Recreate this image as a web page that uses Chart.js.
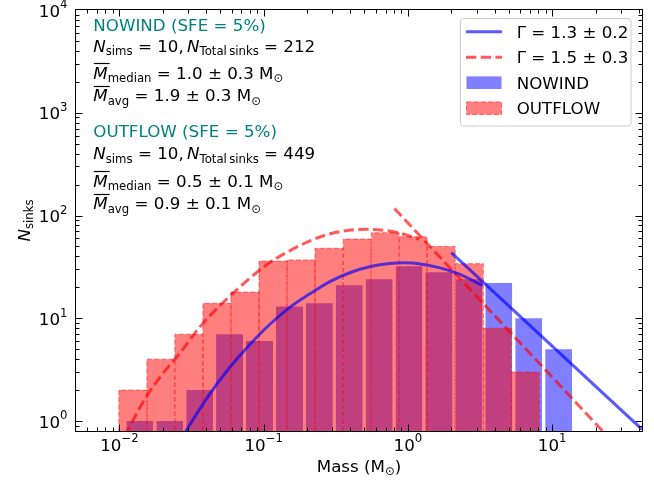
<!DOCTYPE html>
<html>
<head>
<meta charset="utf-8">
<title>Sink mass function</title>
<script src="https://cdn.jsdelivr.net/npm/chart.js@4.4.0/dist/chart.umd.min.js"></script>
<style>
    body { margin: 0; background: #fff; }
    canvas { display: block; }
</style>
</head>
<body>
<canvas id="imf" width="654" height="481"></canvas>
<script>
// Histogram bin edges (M_sun) and counts
const NOWIND_EDGES = [0.0109, 0.0176, 0.0284, 0.0457, 0.0737, 0.119, 0.192, 0.309, 0.498, 0.803, 1.29, 2.09, 3.36, 5.42, 8.74, 14.1];
const NOWIND_COUNTS = [1, 1, 2, 7, 6, 13, 14, 21, 24, 32, 28, 24, 22, 10, 5];
const OUTFLOW_EDGES = [0.0099, 0.0155, 0.0242, 0.0379, 0.0593, 0.0928, 0.145, 0.227, 0.356, 0.557, 0.871, 1.36, 2.13, 3.34, 5.22, 8.18];
const OUTFLOW_COUNTS = [2, 4, 7, 14, 18, 36, 37, 48, 59, 68, 62, 50, 34, 8, 3];

// Fitted curves
const NOWIND_FIT_MASS = [0.0275, 0.0421, 0.0579, 0.0797, 0.110, 0.151, 0.208, 0.29, 0.40, 0.55, 0.75, 0.95, 1.25, 1.65, 2.16, 2.9, 3.29];
const NOWIND_FIT_N = [0.72, 1.82, 3.3, 5.5, 8.7, 12.7, 17.2, 22.9, 27.9, 31.9, 34.2, 34.7, 33.6, 31.1, 27.6, 22.9, 20.8];
const NOWIND_PL_MASS = [2.0, 42];
const NOWIND_PL_N = [43.6, 0.83];
const OUTFLOW_FIT_MASS = [0.0109, 0.0153, 0.020, 0.026, 0.036, 0.055, 0.080, 0.11, 0.15, 0.20, 0.28, 0.38, 0.514, 0.70, 0.90, 1.2];
const OUTFLOW_FIT_N = [0.72, 1.71, 2.9, 4.5, 8.2, 15.2, 24.5, 34.8, 45, 55, 65.6, 71.5, 73.6, 71.4, 66.7, 58.7];
const OUTFLOW_PL_MASS = [0.807, 24];
const OUTFLOW_PL_N = [117, 0.72];

// Axes
const X_MIN = 0.005, X_MAX = 42;
const Y_MIN = 0.8, Y_MAX = 1e4;
const X_TICKS = [0.01, 0.1, 1, 10];
const X_TICK_EXP = ['\u22122', '\u22121', '0', '1'];
const Y_TICKS = [1, 10, 100, 1000, 10000];
const Y_TICK_EXP = ['0', '1', '2', '3', '4'];

// Colours
const BLUE_FILL = 'rgba(0, 0, 255, 0.5)';
const RED_FILL = 'rgba(255, 0, 0, 0.5)';
const BLUE_LINE = 'rgba(0, 0, 255, 0.65)';
const RED_LINE = 'rgba(255, 0, 0, 0.65)';
const TEAL = '#008080';
const FONT = '"DejaVu Sans", sans-serif';
const FS = 16.7;

// Annotation block, one entry per line
const NOTES = [
    {color: TEAL, parts: [{t: 'NOWIND (SFE = 5%)'}]},
    {parts: [{t: 'N', it: true}, {t: 'sims', sub: true}, {t: ' = 10,\u2009'}, {t: 'N', it: true}, {t: 'Total\u2009sinks', sub: true}, {t: ' = 212'}]},
    {parts: [{t: 'M', it: true, bar: true}, {t: 'median', sub: true}, {t: ' = 1.0 \u00b1 0.3 M'}, {t: '\u2299', sub: true}]},
    {parts: [{t: 'M', it: true, bar: true}, {t: 'avg', sub: true}, {t: ' = 1.9 \u00b1 0.3 M'}, {t: '\u2299', sub: true}]},
    {color: TEAL, parts: [{t: 'OUTFLOW (SFE = 5%)'}]},
    {parts: [{t: 'N', it: true}, {t: 'sims', sub: true}, {t: ' = 10,\u2009'}, {t: 'N', it: true}, {t: 'Total\u2009sinks', sub: true}, {t: ' = 449'}]},
    {parts: [{t: 'M', it: true, bar: true}, {t: 'median', sub: true}, {t: ' = 0.5 \u00b1 0.1 M'}, {t: '\u2299', sub: true}]},
    {parts: [{t: 'M', it: true, bar: true}, {t: 'avg', sub: true}, {t: ' = 0.9 \u00b1 0.1 M'}, {t: '\u2299', sub: true}]}
];
const NOTE_BASELINES = [31, 51.7, 78.5, 101, 136.7, 159.3, 186.5, 209];

const LEGEND = [
    {label: '\u0393 = 1.3 \u00b1 0.2', kind: 'line'},
    {label: '\u0393 = 1.5 \u00b1 0.3', kind: 'dash'},
    {label: 'NOWIND', kind: 'blue'},
    {label: 'OUTFLOW', kind: 'red'}
];

// Turn bins into closed bar outlines (one segment per bar, null between bars)
function histPoints(edges, counts, rwidth) {
    const pts = [];
    counts.forEach((n, i) => {
        const a = Math.log10(edges[i]);
        const b = Math.log10(edges[i + 1]);
        const pad = (1 - rwidth) / 2 * (b - a);
        const l = Math.pow(10, a + pad);
        const r = Math.pow(10, b - pad);
        pts.push({x: l, y: Y_MIN}, {x: l, y: n}, {x: r, y: n}, {x: r, y: Y_MIN}, {x: r, y: null});
    });
    return pts;
}

function curve(mass, n) {
    return mass.map((m, i) => ({x: m, y: n[i]}));
}

function partFont(p, size) {
    const s = (p.sub || p.sup) ? size * 0.7 : size;
    return (p.it ? 'italic ' : '') + s + 'px ' + FONT;
}

// Small mathtext-like renderer: italics, sub/superscripts, overline
function drawRich(ctx, parts, x, y, size, align, color) {
    ctx.save();
    ctx.textBaseline = 'alphabetic';
    ctx.textAlign = 'left';
    let total = 0;
    const widths = parts.map(p => {
        ctx.font = partFont(p, size);
        const w = ctx.measureText(p.t).width;
        total += w;
        return w;
    });
    if (align === 'center') x -= total / 2;
    if (align === 'right') x -= total;
    ctx.fillStyle = color || '#000';
    ctx.strokeStyle = color || '#000';
    parts.forEach((p, i) => {
        ctx.font = partFont(p, size);
        let dy = 0;
        if (p.sub) dy = size * 0.22;
        if (p.sup) dy = -size * 0.5;
        ctx.fillText(p.t, x, y + dy);
        if (p.bar) {
            const oy = Math.round(y - size * 0.9) + 0.5;
            ctx.lineWidth = 1.2;
            ctx.beginPath();
            ctx.moveTo(x + 0.5, oy);
            ctx.lineTo(x + widths[i] + 2, oy);
            ctx.stroke();
        }
        x += widths[i];
    });
    ctx.restore();
}

// Frame, inward ticks on all sides, tick labels, axis titles, notes and legend
const decorPlugin = {
    id: 'decor',
    afterDraw(chart) {
        const {ctx, chartArea: a, scales: {x, y}} = chart;
        ctx.save();
        ctx.strokeStyle = '#000';
        ctx.lineWidth = 1;

        const MAJOR = 6.5, MINOR = 3.5;
        ctx.beginPath();
        for (let e = -3; e <= 4; e++) {
            for (let k = 1; k <= 9; k++) {
                const v = k * Math.pow(10, e);
                const len = k === 1 ? MAJOR : MINOR;
                if (v > X_MIN * 1.001 && v < X_MAX * 0.999) {
                    const px = Math.round(x.getPixelForValue(v)) + 0.5;
                    ctx.moveTo(px, a.bottom); ctx.lineTo(px, a.bottom - len);
                    ctx.moveTo(px, a.top); ctx.lineTo(px, a.top + len);
                }
                if (v > Y_MIN * 1.001 && v < Y_MAX * 0.999) {
                    const py = Math.round(y.getPixelForValue(v)) + 0.5;
                    ctx.moveTo(a.left, py); ctx.lineTo(a.left + len, py);
                    ctx.moveTo(a.right, py); ctx.lineTo(a.right - len, py);
                }
            }
        }
        ctx.stroke();
        ctx.strokeRect(a.left - 0.5, a.top - 0.5, a.right - a.left + 1, a.bottom - a.top + 1);
        ctx.restore();

        X_TICKS.forEach((v, i) => {
            drawRich(ctx, [{t: '10'}, {t: X_TICK_EXP[i], sup: true}], x.getPixelForValue(v), a.bottom + 19.5, FS, 'center');
        });
        Y_TICKS.forEach((v, i) => {
            drawRich(ctx, [{t: '10'}, {t: Y_TICK_EXP[i], sup: true}], a.left - 8.5, y.getPixelForValue(v) + 6.7, FS, 'right');
        });

        drawRich(ctx, [{t: 'Mass (M'}, {t: '\u2299', sub: true}, {t: ')'}], (a.left + a.right) / 2, 471.5, FS, 'center');
        ctx.save();
        ctx.translate(29.5, (a.top + a.bottom) / 2);
        ctx.rotate(-Math.PI / 2);
        drawRich(ctx, [{t: 'N', it: true}, {t: 'sinks', sub: true}], 0, 0, FS, 'center');
        ctx.restore();

        NOTES.forEach((line, i) => {
            drawRich(ctx, line.parts, 93.3, NOTE_BASELINES[i], FS, 'left', line.color);
        });

        // Legend
        ctx.save();
        ctx.fillStyle = 'rgba(255, 255, 255, 0.8)';
        ctx.strokeStyle = '#cccccc';
        ctx.lineWidth = 1;
        ctx.beginPath();
        ctx.roundRect(460.5, 18.5, 170.5, 107.5, 3);
        ctx.fill();
        ctx.stroke();
        LEGEND.forEach((item, i) => {
            const cy = 31.7 + i * 25.5;
            if (item.kind === 'line' || item.kind === 'dash') {
                ctx.strokeStyle = item.kind === 'line' ? BLUE_LINE : RED_LINE;
                ctx.lineWidth = 3;
                ctx.setLineDash(item.kind === 'dash' ? [10.3, 4.4] : []);
                ctx.beginPath();
                ctx.moveTo(466, cy);
                ctx.lineTo(502, cy);
                ctx.stroke();
                ctx.setLineDash([]);
            } else {
                ctx.fillStyle = item.kind === 'blue' ? BLUE_FILL : RED_FILL;
                ctx.fillRect(466.5, cy - 6.3, 35, 12.6);
                if (item.kind === 'red') {
                    ctx.strokeStyle = RED_FILL;
                    ctx.lineWidth = 1;
                    ctx.setLineDash([5, 2.2]);
                    ctx.strokeRect(466.5, cy - 6.3, 35, 12.6);
                    ctx.setLineDash([]);
                }
            }
            drawRich(ctx, [{t: item.label}], 516.7, cy + 6, FS, 'left');
        });
        ctx.restore();
    }
};

const lineStyle = {pointRadius: 0, fill: false, clip: 0, borderWidth: 3, borderCapStyle: 'butt'};

new Chart(document.getElementById('imf'), {
    type: 'line',
    data: {
        datasets: [
            Object.assign({label: 'NOWIND fit', data: curve(NOWIND_FIT_MASS, NOWIND_FIT_N), borderColor: BLUE_LINE, cubicInterpolationMode: 'monotone', order: 1}, lineStyle),
            Object.assign({label: 'NOWIND power law', data: curve(NOWIND_PL_MASS, NOWIND_PL_N), borderColor: BLUE_LINE, order: 2}, lineStyle),
            Object.assign({label: 'OUTFLOW fit', data: curve(OUTFLOW_FIT_MASS, OUTFLOW_FIT_N), borderColor: RED_LINE, borderDash: [10.3, 4.4], cubicInterpolationMode: 'monotone', order: 3}, lineStyle),
            Object.assign({label: 'OUTFLOW power law', data: curve(OUTFLOW_PL_MASS, OUTFLOW_PL_N), borderColor: RED_LINE, borderDash: [10.3, 4.4], order: 4}, lineStyle),
            {
                label: 'OUTFLOW',
                data: histPoints(OUTFLOW_EDGES, OUTFLOW_COUNTS, 1),
                backgroundColor: RED_FILL,
                borderColor: RED_FILL,
                borderWidth: 1,
                borderDash: [5, 2.2],
                fill: 'start',
                pointRadius: 0,
                tension: 0,
                clip: 0,
                order: 5
            },
            {
                label: 'NOWIND',
                data: histPoints(NOWIND_EDGES, NOWIND_COUNTS, 0.9),
                backgroundColor: BLUE_FILL,
                borderColor: 'rgba(0, 0, 0, 0)',
                borderWidth: 1,
                fill: 'start',
                pointRadius: 0,
                tension: 0,
                clip: 0,
                order: 6
            }
        ]
    },
    options: {
        responsive: false,
        animation: false,
        devicePixelRatio: 1,
        layout: {padding: {left: 76, top: 10, right: 12, bottom: 50}},
        plugins: {legend: {display: false}, tooltip: {enabled: false}},
        scales: {
            x: {type: 'logarithmic', min: X_MIN, max: X_MAX, display: false},
            y: {type: 'logarithmic', min: Y_MIN, max: Y_MAX, display: false}
        }
    },
    plugins: [decorPlugin]
});
</script>
</body>
</html>
